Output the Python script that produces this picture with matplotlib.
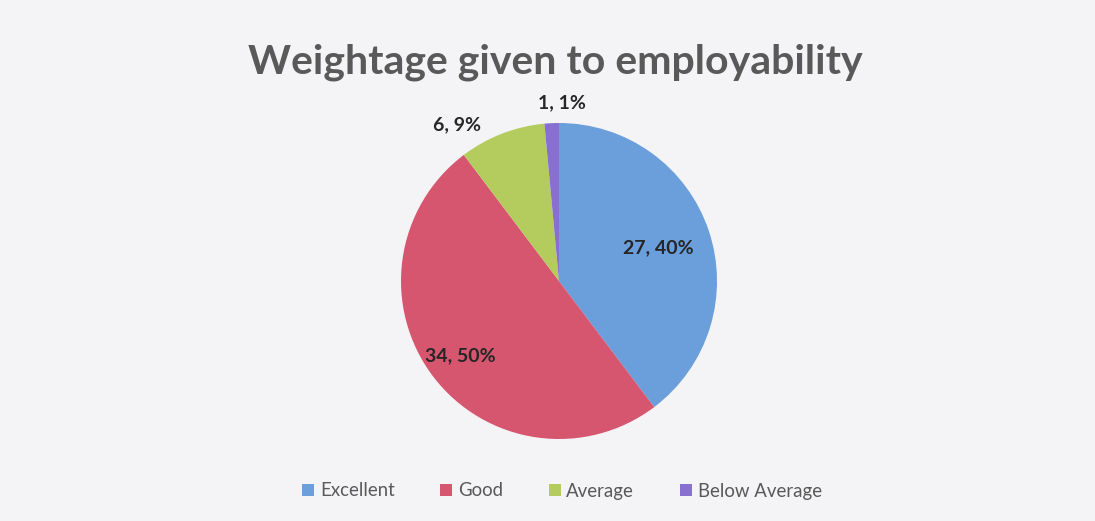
import numpy as np
import matplotlib.pyplot as plt

# data
categories = ["Excellent", "Good", "Average", "Below Average"]
counts = [27, 34, 6, 1]
percents = [40, 50, 9, 1]

colors = ["#6a9fdc", "#d6566f", "#b4cb5e", "#8770cf"]
label_dist = [0.66, 0.78, 1.18, 1.13]
label_shift = [0, 0, 12, -3.5]  # degrees, for the outside labels

plt.rcParams['font.family'] = ['Lato', 'DejaVu Sans']

fig = plt.figure(figsize=(10.95, 5.21), dpi=100)
fig.patch.set_facecolor("#f4f4f6")

# pie axes: centre ~ (559, 281) px, radius ~158 px
cx, cy, r = 559, 281, 158
W, H = 1095, 521
ax = fig.add_axes([(cx - r) / W, (H - cy - r) / H, 2 * r / W, 2 * r / H])
wedges, _ = ax.pie(counts, colors=colors, startangle=90, counterclock=False,
                   radius=1.0, wedgeprops=dict(edgecolor="none"))
ax.set_xlim(-1, 1)
ax.set_ylim(-1, 1)
ax.set_aspect("equal")
ax.axis("off")

for w, c, p, d, s in zip(wedges, counts, percents, label_dist, label_shift):
    ang = np.deg2rad((w.theta1 + w.theta2) / 2 + s)
    ax.text(d * np.cos(ang), d * np.sin(ang), f"{c}, {p}%", ha="center", va="center",
            fontsize=14, fontweight="bold", color="#262626")

fig.text(555 / W, 1 - 62 / H, "Weightage given to employability", ha="center", va="center",
         fontsize=29.5, fontweight="bold", color="#595959")

fig.legend(wedges, categories, loc="center", bbox_to_anchor=(562 / W, 1 - 491 / H), ncol=4,
           frameon=False, fontsize=13.4, handlelength=0.65, handleheight=0.65, handletextpad=0.3,
           columnspacing=2.45, labelcolor="#595959")

fig.savefig("out.png", dpi=100, facecolor=fig.get_facecolor())
